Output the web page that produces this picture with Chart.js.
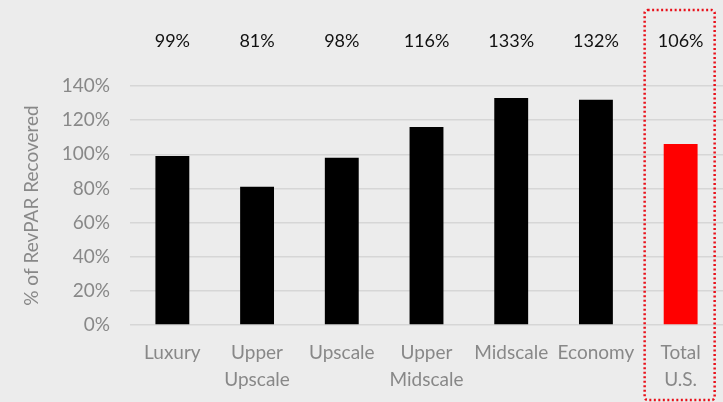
<!DOCTYPE html>
<html>
<head>
<meta charset="utf-8">
<script src="https://cdn.jsdelivr.net/npm/chart.js@4"></script>
<style>
  html, body { margin: 0; padding: 0; background: #ececec; }
  #wrap { width: 723px; height: 402px; position: relative; }
</style>
</head>
<body>
<div id="wrap"><canvas id="chart"></canvas></div>
<script>
const categories = [["Luxury"], ["Upper", "Upscale"], ["Upscale"], ["Upper", "Midscale"], ["Midscale"], ["Economy"], ["Total", "U.S."]];
const recovered = [99, 81, 98, 116, 133, 132, 106];
const valueLabels = ["99%", "81%", "98%", "116%", "133%", "132%", "106%"];
const barColors = ["#000000", "#000000", "#000000", "#000000", "#000000", "#000000", "#ff0000"];
const highlightIndex = 6;

const fontFamily = "Lato, sans-serif";

// value row along the top of the chart
const topLabels = {
  id: "topLabels",
  afterDatasetsDraw(chart) {
    const ctx = chart.ctx;
    const meta = chart.getDatasetMeta(0);
    ctx.save();
    ctx.font = "18px " + fontFamily;
    ctx.fillStyle = "#111";
    ctx.textAlign = "center";
    ctx.textBaseline = "middle";
    meta.data.forEach((bar, i) => {
      ctx.fillText(valueLabels[i], bar.x, 41);
    });
    ctx.restore();
  }
};

// dotted red frame round the total column
const highlightBox = {
  id: "highlightBox",
  afterDraw(chart) {
    const ctx = chart.ctx;
    const x = chart.scales.x;
    const cx = x.getPixelForValue(highlightIndex);
    const half = 35;
    ctx.save();
    ctx.strokeStyle = "#e8101a";
    ctx.lineWidth = 2.5;
    ctx.setLineDash([2, 2.5]);
    ctx.beginPath();
    ctx.roundRect(cx - half - 1, 10, half * 2, 390, 3);
    ctx.stroke();
    ctx.restore();
  }
};

new Chart(document.getElementById("chart"), {
  type: "bar",
  data: {
    labels: categories,
    datasets: [{
      data: recovered,
      backgroundColor: barColors,
      barPercentage: 0.4,
      categoryPercentage: 1.0,
    }]
  },
  options: {
    responsive: true,
    maintainAspectRatio: false,
    animation: false,
    layout: { padding: { top: 86, left: 20, right: 0, bottom: 0 } },
    plugins: { legend: { display: false }, tooltip: { enabled: false } },
    scales: {
      x: {
        afterFit(scale) { scale.height = 77; },
        grid: { display: false },
        border: { display: false },
        ticks: { color: "#888", font: { family: fontFamily, size: 19, lineHeight: 1.4 }, padding: 7, maxRotation: 0, autoSkip: false }
      },
      y: {
        min: 0,
        max: 140,
        afterFit(scale) { scale.width = 110; },
        grid: { color: "#d6d6d6", lineWidth: 1.5, drawTicks: false },
        border: { display: false },
        ticks: {
          stepSize: 20,
          padding: 20,
          color: "#888",
          font: { family: fontFamily, size: 19 },
          callback: v => v + "%"
        },
        title: {
          display: true,
          text: "% of RevPAR Recovered",
          color: "#888",
          font: { family: fontFamily, size: 19 },
          padding: { top: 0, bottom: 0 }
        }
      }
    }
  },
  plugins: [topLabels, highlightBox]
});
</script>
</body>
</html>
